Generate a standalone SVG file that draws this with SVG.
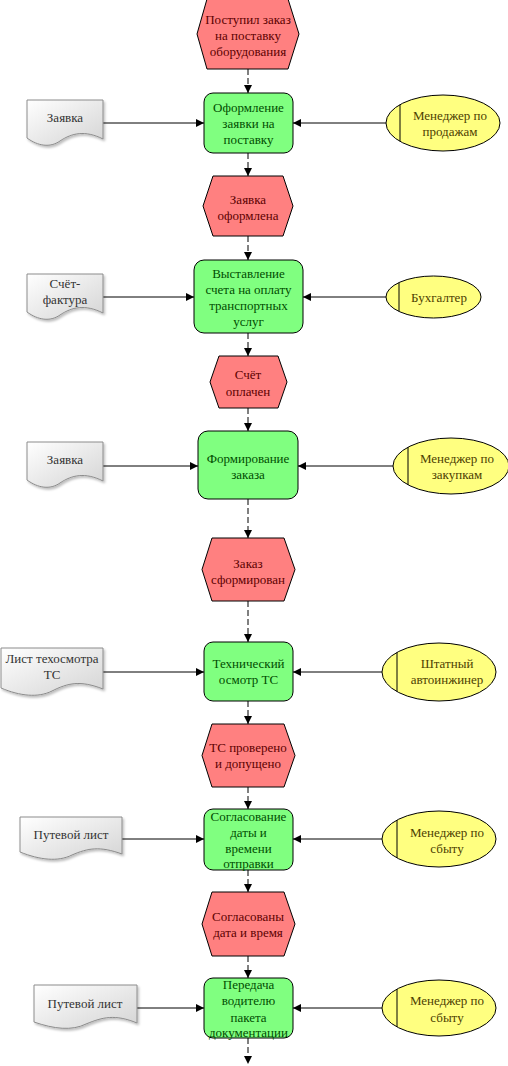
<svg xmlns="http://www.w3.org/2000/svg" width="508" height="1066" viewBox="0 0 508 1066">
<style>
text{font-family:"Liberation Serif","Times New Roman",serif;font-size:13px;text-anchor:middle}
.ev{fill:#ff8080;stroke:#000;stroke-width:1}
.evt{fill:#5c0000}
.fn{fill:#80ff80;stroke:#000;stroke-width:1}
.fnt{fill:#004d00}
.rl{fill:#ffff80;stroke:#000;stroke-width:1}
.rlt{fill:#4d4000}
.doc{fill:url(#dg);stroke:#8c8c8c;stroke-width:1;filter:url(#sh)}
.doct{fill:#333}
.c{stroke:#000;stroke-width:1;fill:none;marker-end:url(#ah)}
.d{stroke-dasharray:6 3}
</style>
<defs>
<linearGradient id="dg" x1="0" y1="0" x2="1" y2="1">
<stop offset="0" stop-color="#ffffff"/>
<stop offset="1" stop-color="#d4d4d4"/>
</linearGradient>
<filter id="sh" x="-10%" y="-10%" width="130%" height="140%">
<feDropShadow dx="1.5" dy="2" stdDeviation="1" flood-color="#000" flood-opacity="0.25"/>
</filter>
<marker id="ah" viewBox="0 0 8 8" refX="8" refY="4" markerWidth="8" markerHeight="8" markerUnits="userSpaceOnUse" orient="auto">
<path d="M0,0 L8,4 L0,8 Z" fill="#000"/>
</marker>
</defs>

<g id="connectors">
<line class="c d" x1="248" y1="69" x2="248" y2="93"/>
<line class="c d" x1="248" y1="153" x2="248" y2="176"/>
<line class="c d" x1="248" y1="236" x2="248" y2="260"/>
<line class="c d" x1="248" y1="333" x2="248" y2="356"/>
<line class="c d" x1="248" y1="408" x2="248" y2="431"/>
<line class="c d" x1="248" y1="499" x2="248" y2="538"/>
<line class="c d" x1="248" y1="601" x2="248" y2="642"/>
<line class="c d" x1="248" y1="701" x2="248" y2="724"/>
<line class="c d" x1="248" y1="787" x2="248" y2="809"/>
<line class="c d" x1="248" y1="870" x2="248" y2="892"/>
<line class="c d" x1="248" y1="956" x2="248" y2="978"/>
<line class="c d" x1="248" y1="1038" x2="248" y2="1064"/>
<line class="c" x1="103" y1="123" x2="204" y2="123"/>
<line class="c" x1="386" y1="123" x2="293" y2="123"/>
<line class="c" x1="103" y1="297" x2="194" y2="297"/>
<line class="c" x1="386" y1="297" x2="303" y2="297"/>
<line class="c" x1="103" y1="466" x2="198" y2="466"/>
<line class="c" x1="393" y1="466" x2="298" y2="466"/>
<line class="c" x1="103" y1="672" x2="204" y2="672"/>
<line class="c" x1="382" y1="672" x2="293" y2="672"/>
<line class="c" x1="122" y1="839" x2="204" y2="839"/>
<line class="c" x1="382" y1="839" x2="293" y2="839"/>
<line class="c" x1="137" y1="1008" x2="204" y2="1008"/>
<line class="c" x1="382" y1="1008" x2="293" y2="1008"/>
</g>

<g id="e1"><polygon class="ev" points="207,-1 288,-1 299,34 288,69 207,69 197,34"/>
<text class="evt" x="248" y="24">Поступил заказ</text><text class="evt" x="248" y="40">на поставку</text><text class="evt" x="248" y="56">оборудования</text></g>
<g id="f1"><rect class="fn" x="204" y="93" width="89" height="60" rx="9"/>
<text class="fnt" x="248.5" y="112">Оформление</text><text class="fnt" x="248.5" y="128">заявки на</text><text class="fnt" x="248.5" y="144">поставку</text></g>
<g id="d1"><path class="doc" d="M27,100 H103 V139 C85,130 72,133 60,141 C50,148 38,146 27,138 Z"/>
<text class="doct" x="65" y="122">Заявка</text></g>
<g id="r1"><ellipse class="rl" cx="443" cy="123" rx="57" ry="28"/><line x1="400" y1="104.6" x2="400" y2="141.4" stroke="#000"/>
<text class="rlt" x="450" y="120">Менеджер по</text><text class="rlt" x="450" y="136">продажам</text></g>

<g id="e2"><polygon class="ev" points="213,176 283,176 293,206 283,236 213,236 203,206"/>
<text class="evt" x="248" y="204">Заявка</text><text class="evt" x="248" y="220">оформлена</text></g>
<g id="f2"><rect class="fn" x="194" y="260" width="109" height="73" rx="10"/>
<text class="fnt" x="248.5" y="278">Выставление</text><text class="fnt" x="248.5" y="294">счета на оплату</text><text class="fnt" x="248.5" y="310">транспортных</text><text class="fnt" x="248.5" y="326">услуг</text></g>
<g id="d2"><path class="doc" d="M27,274 H103 V313 C85,304 72,307 60,315 C50,322 38,320 27,312 Z"/>
<text class="doct" x="65" y="288">Счёт-</text><text class="doct" x="65" y="304">фактура</text></g>
<g id="r2"><ellipse class="rl" cx="433.5" cy="297" rx="47.5" ry="21"/><line x1="399" y1="282.6" x2="399" y2="311.4" stroke="#000"/>
<text class="rlt" x="439" y="301.5">Бухгалтер</text></g>

<g id="e3"><polygon class="ev" points="219,356 278,356 287,382 278,408 219,408 210,382"/>
<text class="evt" x="248" y="379">Счёт</text><text class="evt" x="248" y="396">оплачен</text></g>
<g id="f3"><rect class="fn" x="198" y="431" width="100" height="68" rx="10"/>
<text class="fnt" x="248" y="463">Формирование</text><text class="fnt" x="248" y="479">заказа</text></g>
<g id="d3"><path class="doc" d="M27,442 H103 V481 C85,472 72,475 60,483 C50,490 38,488 27,480 Z"/>
<text class="doct" x="65" y="464">Заявка</text></g>
<g id="r3"><ellipse class="rl" cx="451" cy="466" rx="58" ry="28"/><line x1="408" y1="447.2" x2="408" y2="484.8" stroke="#000"/>
<text class="rlt" x="457" y="463">Менеджер по</text><text class="rlt" x="457" y="479">закупкам</text></g>

<g id="e4"><polygon class="ev" points="212,538 284,538 295,569.5 284,601 212,601 202,569.5"/>
<text class="evt" x="248" y="568">Заказ</text><text class="evt" x="248" y="584">сформирован</text></g>
<g id="f4"><rect class="fn" x="204" y="642" width="89" height="59" rx="9"/>
<text class="fnt" x="248.5" y="668">Технический</text><text class="fnt" x="248.5" y="684">осмотр ТС</text></g>
<g id="d4"><path class="doc" d="M1,648 H103 V689 C80,680 68,683 52,691 C38,698 20,696 1,688 Z"/>
<text class="doct" x="52" y="663">Лист техосмотра</text><text class="doct" x="52" y="679">ТС</text></g>
<g id="r4"><ellipse class="rl" cx="439" cy="672" rx="57" ry="29"/><line x1="397" y1="652.4" x2="397" y2="691.6" stroke="#000"/>
<text class="rlt" x="447" y="668">Штатный</text><text class="rlt" x="447" y="684">автоинжинер</text></g>

<g id="e5"><polygon class="ev" points="212,724 284,724 295,755.5 284,787 212,787 202,755.5"/>
<text class="evt" x="248" y="752">ТС проверено</text><text class="evt" x="248" y="768">и допущено</text></g>
<g id="f5"><rect class="fn" x="204" y="809" width="89" height="61" rx="9"/>
<text class="fnt" x="248.5" y="821">Согласование</text><text class="fnt" x="248.5" y="837">даты и</text><text class="fnt" x="248.5" y="853">времени</text><text class="fnt" x="248.5" y="868">отправки</text></g>
<g id="d5"><path class="doc" d="M20,817 H122 V854 C100,846 88,848 72,855 C58,862 40,860 20,852 Z"/>
<text class="doct" x="71" y="839">Путевой лист</text></g>
<g id="r5"><ellipse class="rl" cx="439" cy="839" rx="57" ry="28"/><line x1="397" y1="820.1" x2="397" y2="857.9" stroke="#000"/>
<text class="rlt" x="447" y="837">Менеджер по</text><text class="rlt" x="447" y="853">сбыту</text></g>

<g id="e6"><polygon class="ev" points="212,892 284,892 295,924 284,956 212,956 202,924"/>
<text class="evt" x="248" y="921">Согласованы</text><text class="evt" x="248" y="937">дата и время</text></g>
<g id="f6"><rect class="fn" x="204" y="978" width="89" height="60" rx="9"/>
<text class="fnt" x="248.5" y="989">Передача</text><text class="fnt" x="248.5" y="1005">водителю</text><text class="fnt" x="248.5" y="1022">пакета</text><text class="fnt" x="248.5" y="1037">документации</text></g>
<g id="d6"><path class="doc" d="M34,985 H137 V1023 C115,1014 103,1017 86,1024 C72,1031 54,1029 34,1022 Z"/>
<text class="doct" x="85" y="1008">Путевой лист</text></g>
<g id="r6"><ellipse class="rl" cx="439" cy="1008" rx="57" ry="28"/><line x1="397" y1="989.1" x2="397" y2="1026.9" stroke="#000"/>
<text class="rlt" x="447" y="1005">Менеджер по</text><text class="rlt" x="447" y="1022">сбыту</text></g>
</svg>
